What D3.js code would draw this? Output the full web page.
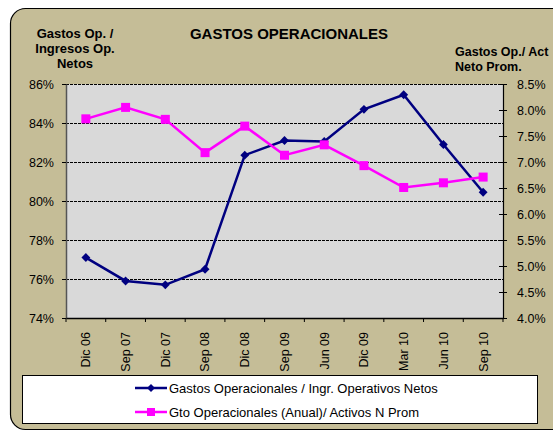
<!DOCTYPE html>
<html>
<head>
<meta charset="utf-8">
<script src="https://cdn.jsdelivr.net/npm/d3@7"></script>
<style>
  body { margin: 0; background: #fff; }
  text { font-family: "Liberation Sans", Arial, sans-serif; fill: #000; }
</style>
</head>
<body>
<div class="chart"></div>
<script>
// data
var periods = ["Dic 06", "Sep 07", "Dic 07", "Sep 08", "Dic 08", "Sep 09", "Jun 09", "Dic 09", "Mar 10", "Jun 10", "Sep 10"];
var gastosIngresos = [77.1, 75.9, 75.7, 76.5, 82.35, 83.1, 83.05, 84.7, 85.45, 82.9, 80.45];
var gastosActivos = [7.83, 8.05, 7.82, 7.18, 7.69, 7.13, 7.33, 6.93, 6.51, 6.6, 6.71];
var leftTicks = [74, 76, 78, 80, 82, 84, 86];
var rightTicks = [4.0, 4.5, 5.0, 5.5, 6.0, 6.5, 7.0, 7.5, 8.0, 8.5];
var seriesNames = ["Gastos Operacionales / Ingr. Operativos Netos", "Gto Operacionales (Anual)/ Activos N Prom"];

var svgWidth = 553;
var svgHeight = 432;

var margin = { top: 84, right: 50, bottom: 114, left: 66 };
var width = svgWidth - margin.left - margin.right;
var height = svgHeight - margin.top - margin.bottom;

var navy = "#000080";
var magenta = "#ff00ff";
var labelFont = 12.5;

var svg = d3.select(".chart")
  .append("svg")
  .attr("width", svgWidth)
  .attr("height", svgHeight);

// tan background with rounded corners (right edge runs off the picture)
svg.append("rect")
  .attr("x", 10.5)
  .attr("y", 8.5)
  .attr("width", 560)
  .attr("height", 421)
  .attr("rx", 15)
  .attr("fill", "#c5bd97")
  .attr("stroke", "#000")
  .attr("stroke-width", 1.2);

var chartGroup = svg.append("g")
  .attr("transform", `translate(${margin.left}, ${margin.top})`);

chartGroup.append("rect")
  .attr("width", width)
  .attr("height", height)
  .attr("fill", "#d9d9d9");

var xScale = d3.scaleBand()
  .domain(periods)
  .range([0, width]);

var yLeft = d3.scaleLinear().domain([74, 86]).range([height, 0]);
var yRight = d3.scaleLinear().domain([4.0, 8.5]).range([height, 0]);

// gridlines
chartGroup.selectAll(".grid")
  .data(leftTicks.slice(1))
  .enter()
  .append("line")
  .attr("x1", 0)
  .attr("x2", width)
  .attr("y1", d => Math.round(yLeft(d)) + 0.5)
  .attr("y2", d => Math.round(yLeft(d)) + 0.5)
  .attr("stroke", "#000")
  .attr("stroke-width", 1)
  .attr("stroke-dasharray", "3,1");

// left axis
var leftAxis = chartGroup.append("g")
  .call(d3.axisLeft(yLeft).tickValues(leftTicks).tickFormat(d => d + "%").tickSize(4).tickSizeOuter(0));
leftAxis.select(".domain").attr("stroke", "#555").attr("stroke-width", 1.5);
leftAxis.selectAll("text").attr("font-size", labelFont).attr("x", -12).style("font-family", "Liberation Sans, Arial, sans-serif");

// right axis
var rightAxis = chartGroup.append("g")
  .attr("transform", `translate(${width}, 0)`)
  .call(d3.axisRight(yRight).tickValues(rightTicks).tickFormat(d3.format(".1f")).tickSize(4).tickSizeOuter(0));
rightAxis.selectAll(".tick line").attr("x1", -4);
rightAxis.selectAll("text").text(d => d3.format(".1f")(d) + "%").attr("font-size", labelFont).attr("x", 14).style("font-family", "Liberation Sans, Arial, sans-serif");
rightAxis.select(".domain").attr("stroke-width", 1.2);

// bottom axis, ticks sit on the band edges
var bottomAxis = chartGroup.append("g")
  .attr("transform", `translate(0, ${height})`)
  .call(d3.axisBottom(xScale).tickSize(0).tickSizeOuter(0));
bottomAxis.select(".domain").attr("stroke-width", 1.5);
bottomAxis.selectAll("text")
  .attr("transform", "rotate(-90)")
  .attr("text-anchor", "end")
  .attr("x", -14)
  .attr("y", 0)
  .attr("dy", "0.35em")
  .attr("font-size", labelFont)
  .style("font-family", "Liberation Sans, Arial, sans-serif");

chartGroup.selectAll(".xtick")
  .data(d3.range(periods.length + 1))
  .enter()
  .append("line")
  .attr("x1", i => i * xScale.step())
  .attr("x2", i => i * xScale.step())
  .attr("y1", height)
  .attr("y2", height + 4)
  .attr("stroke", "#000");

var cx = d => xScale(d) + xScale.bandwidth() / 2;

// series 1 - left axis
chartGroup.append("path")
  .datum(gastosIngresos)
  .attr("fill", "none")
  .attr("stroke", navy)
  .attr("stroke-width", 2.5)
  .attr("d", d3.line().x((d, i) => cx(periods[i])).y(d => yLeft(d)));

chartGroup.selectAll(".diamond")
  .data(gastosIngresos)
  .enter()
  .append("path")
  .attr("transform", (d, i) => `translate(${cx(periods[i])}, ${yLeft(d)})`)
  .attr("d", d3.symbol().type(d3.symbolDiamond2).size(50))
  .attr("fill", navy);

// series 2 - right axis
chartGroup.append("path")
  .datum(gastosActivos)
  .attr("fill", "none")
  .attr("stroke", magenta)
  .attr("stroke-width", 2.5)
  .attr("d", d3.line().x((d, i) => cx(periods[i])).y(d => yRight(d)));

chartGroup.selectAll(".square")
  .data(gastosActivos)
  .enter()
  .append("rect")
  .attr("x", (d, i) => cx(periods[i]) - 4.5)
  .attr("y", d => yRight(d) - 4.5)
  .attr("width", 9)
  .attr("height", 9)
  .attr("fill", magenta);

// titles
svg.append("text")
  .attr("x", 289)
  .attr("y", 39)
  .attr("text-anchor", "middle")
  .attr("font-size", 15)
  .attr("font-weight", "bold")
  .text("GASTOS OPERACIONALES");

var leftTitle = svg.append("text")
  .attr("text-anchor", "middle")
  .attr("font-size", 13)
  .attr("font-weight", "bold");
["Gastos Op. /", "Ingresos Op.", "Netos"].forEach(function(t, i) {
  leftTitle.append("tspan").attr("x", 75).attr("y", 38 + i * 15).text(t);
});

var rightTitle = svg.append("text")
  .attr("font-size", 12.5)
  .attr("font-weight", "bold");
["Gastos Op./ Act", "Neto Prom."].forEach(function(t, i) {
  rightTitle.append("tspan").attr("x", 455).attr("y", 56 + i * 14.5).text(t);
});

// legend
var legend = svg.append("g");
legend.append("rect")
  .attr("x", 22.5)
  .attr("y", 375.5)
  .attr("width", 515)
  .attr("height", 48)
  .attr("fill", "#fff")
  .attr("stroke", "#000")
  .attr("stroke-width", 1);

var legendColors = [navy, magenta];
seriesNames.forEach(function(name, i) {
  var y = 388 + i * 24;
  legend.append("line")
    .attr("x1", 135).attr("x2", 167)
    .attr("y1", y).attr("y2", y)
    .attr("stroke", legendColors[i])
    .attr("stroke-width", 2.5);
  if (i === 0) {
    legend.append("path")
      .attr("transform", `translate(151, ${y})`)
      .attr("d", d3.symbol().type(d3.symbolDiamond2).size(40))
      .attr("fill", navy);
  } else {
    legend.append("rect")
      .attr("x", 147).attr("y", y - 4)
      .attr("width", 8).attr("height", 8)
      .attr("fill", magenta);
  }
  legend.append("text")
    .attr("x", 169)
    .attr("y", y + 4.5)
    .attr("font-size", 13)
    .text(name);
});
</script>
</body>
</html>
